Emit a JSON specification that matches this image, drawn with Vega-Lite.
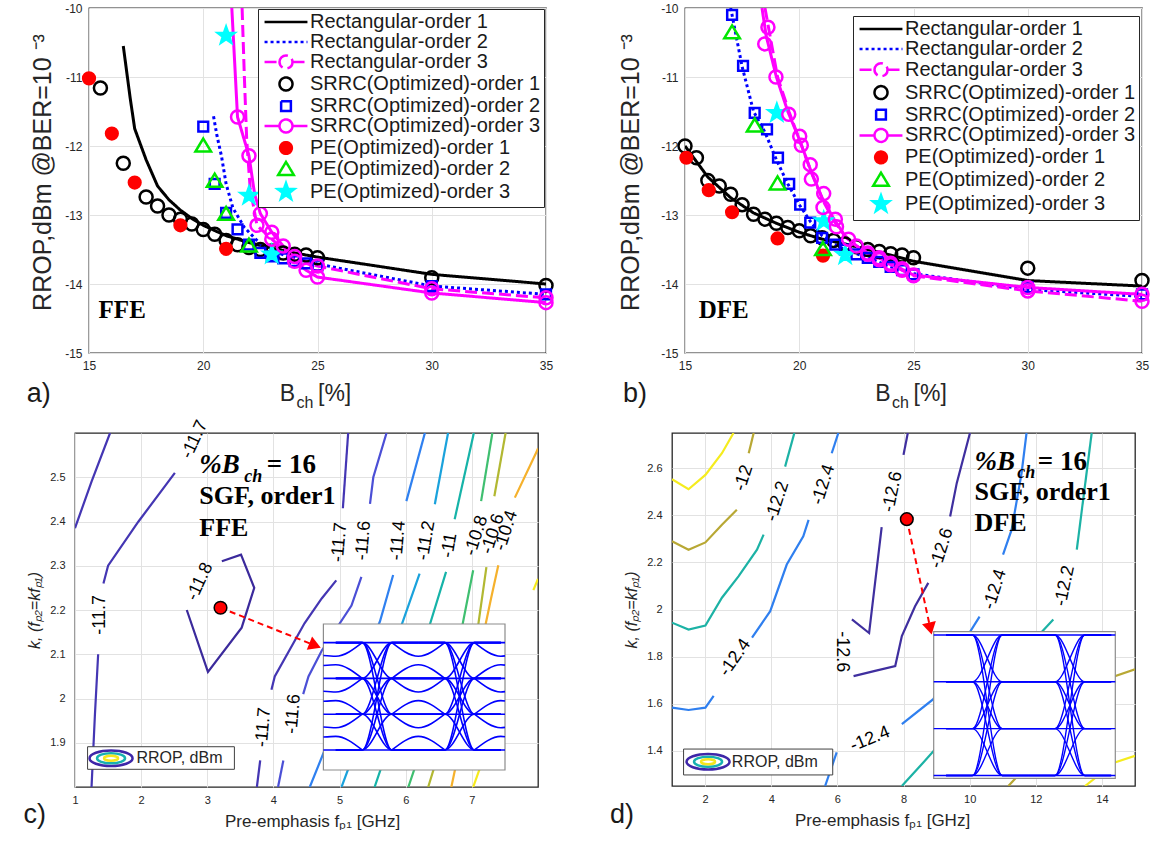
{
"$schema": "https://vega.github.io/schema/vega-lite/v6.json",
"background": "white",
"padding": {"left": 22, "top": 1, "right": 0, "bottom": 0},
"config": {
  "locale": {"number": {"decimal": ".", "thousands": ",", "grouping": [3], "currency": ["", ""], "minus": "-"}},
  "font": "Liberation Sans",
  "view": {"stroke": "#262626", "strokeWidth": 1.3},
  "axis": {"domain": false, "ticks": false, "grid": true, "gridColor": "#e2e2e2", "gridWidth": 1, "labelColor": "#262626", "titleColor": "#262626", "titleFontWeight": "normal", "labelFont": "Liberation Sans", "titleFont": "Liberation Sans", "labelPadding": 7, "labelFontSize": 11, "labelFlush": false, "labelOverlap": false}
},
"datasets": {
  "topA": [
    {"s":"Rectangular-order 1","k":"l","x":16.5,"y":-10.55},{"s":"Rectangular-order 1","k":"l","x":16.8,"y":-11.3},{"s":"Rectangular-order 1","k":"l","x":17,"y":-11.75},{"s":"Rectangular-order 1","k":"l","x":17.5,"y":-12.2},{"s":"Rectangular-order 1","k":"l","x":18,"y":-12.58},{"s":"Rectangular-order 1","k":"l","x":18.5,"y":-12.78},{"s":"Rectangular-order 1","k":"l","x":19,"y":-12.93},{"s":"Rectangular-order 1","k":"l","x":19.5,"y":-13.05},{"s":"Rectangular-order 1","k":"l","x":20,"y":-13.15},{"s":"Rectangular-order 1","k":"l","x":21,"y":-13.3},{"s":"Rectangular-order 1","k":"l","x":22,"y":-13.4},{"s":"Rectangular-order 1","k":"l","x":23,"y":-13.48},{"s":"Rectangular-order 1","k":"l","x":24,"y":-13.55},{"s":"Rectangular-order 1","k":"l","x":25,"y":-13.61},{"s":"Rectangular-order 1","k":"l","x":30,"y":-13.86},{"s":"Rectangular-order 1","k":"l","x":35,"y":-14.0},
    {"s":"Rectangular-order 2","k":"l","x":20.45,"y":-11.57},{"s":"Rectangular-order 2","k":"l","x":20.6,"y":-11.85},{"s":"Rectangular-order 2","k":"l","x":20.8,"y":-12.15},{"s":"Rectangular-order 2","k":"l","x":21,"y":-12.55},{"s":"Rectangular-order 2","k":"l","x":21.3,"y":-12.9},{"s":"Rectangular-order 2","k":"l","x":21.8,"y":-13.18},{"s":"Rectangular-order 2","k":"l","x":22.5,"y":-13.42},{"s":"Rectangular-order 2","k":"l","x":23,"y":-13.52},{"s":"Rectangular-order 2","k":"l","x":24,"y":-13.63},{"s":"Rectangular-order 2","k":"l","x":25,"y":-13.71},{"s":"Rectangular-order 2","k":"l","x":30,"y":-14.03},{"s":"Rectangular-order 2","k":"l","x":35,"y":-14.15},
    {"s":"Rectangular-order 3","k":"l","x":21.7,"y":-10},{"s":"Rectangular-order 3","k":"l","x":21.8,"y":-11},{"s":"Rectangular-order 3","k":"l","x":21.9,"y":-11.9},{"s":"Rectangular-order 3","k":"l","x":22.05,"y":-12.6},{"s":"Rectangular-order 3","k":"l","x":22.35,"y":-13.15},{"s":"Rectangular-order 3","k":"l","x":23,"y":-13.35},{"s":"Rectangular-order 3","k":"l","x":23.5,"y":-13.5},{"s":"Rectangular-order 3","k":"l","x":24,"y":-13.6},{"s":"Rectangular-order 3","k":"l","x":24.5,"y":-13.68},{"s":"Rectangular-order 3","k":"l","x":25,"y":-13.74},{"s":"Rectangular-order 3","k":"l","x":30,"y":-14.07},{"s":"Rectangular-order 3","k":"l","x":35,"y":-14.2},
    {"s":"SRRC(Optimized)-order 3","k":"l","x":21.25,"y":-10},{"s":"SRRC(Optimized)-order 3","k":"l","x":21.5,"y":-11.58},{"s":"SRRC(Optimized)-order 3","k":"l","x":22,"y":-12.14},{"s":"SRRC(Optimized)-order 3","k":"l","x":22.25,"y":-12.7},{"s":"SRRC(Optimized)-order 3","k":"l","x":22.5,"y":-12.98},{"s":"SRRC(Optimized)-order 3","k":"l","x":23,"y":-13.25},{"s":"SRRC(Optimized)-order 3","k":"l","x":23.5,"y":-13.45},{"s":"SRRC(Optimized)-order 3","k":"l","x":24,"y":-13.67},{"s":"SRRC(Optimized)-order 3","k":"l","x":24.5,"y":-13.8},{"s":"SRRC(Optimized)-order 3","k":"l","x":25,"y":-13.9},{"s":"SRRC(Optimized)-order 3","k":"l","x":30,"y":-14.13},{"s":"SRRC(Optimized)-order 3","k":"l","x":35,"y":-14.27},
    {"s":"SRRC(Optimized)-order 1","k":"p","x":15.5,"y":-11.16},{"s":"SRRC(Optimized)-order 1","k":"p","x":16.5,"y":-12.25},{"s":"SRRC(Optimized)-order 1","k":"p","x":17.5,"y":-12.74},{"s":"SRRC(Optimized)-order 1","k":"p","x":18,"y":-12.87},{"s":"SRRC(Optimized)-order 1","k":"p","x":18.5,"y":-13.0},{"s":"SRRC(Optimized)-order 1","k":"p","x":19,"y":-13.06},{"s":"SRRC(Optimized)-order 1","k":"p","x":19.5,"y":-13.13},{"s":"SRRC(Optimized)-order 1","k":"p","x":20,"y":-13.21},{"s":"SRRC(Optimized)-order 1","k":"p","x":20.5,"y":-13.28},{"s":"SRRC(Optimized)-order 1","k":"p","x":21,"y":-13.37},{"s":"SRRC(Optimized)-order 1","k":"p","x":21.5,"y":-13.43},{"s":"SRRC(Optimized)-order 1","k":"p","x":22,"y":-13.47},{"s":"SRRC(Optimized)-order 1","k":"p","x":22.5,"y":-13.5},{"s":"SRRC(Optimized)-order 1","k":"p","x":23,"y":-13.52},{"s":"SRRC(Optimized)-order 1","k":"p","x":23.5,"y":-13.55},{"s":"SRRC(Optimized)-order 1","k":"p","x":24,"y":-13.57},{"s":"SRRC(Optimized)-order 1","k":"p","x":24.5,"y":-13.58},{"s":"SRRC(Optimized)-order 1","k":"p","x":25,"y":-13.62},{"s":"SRRC(Optimized)-order 1","k":"p","x":30,"y":-13.91},{"s":"SRRC(Optimized)-order 1","k":"p","x":35,"y":-14.02},
    {"s":"SRRC(Optimized)-order 2","k":"p","x":20,"y":-11.72},{"s":"SRRC(Optimized)-order 2","k":"p","x":20.5,"y":-12.55},{"s":"SRRC(Optimized)-order 2","k":"p","x":21,"y":-12.97},{"s":"SRRC(Optimized)-order 2","k":"p","x":21.5,"y":-13.21},{"s":"SRRC(Optimized)-order 2","k":"p","x":22,"y":-13.43},{"s":"SRRC(Optimized)-order 2","k":"p","x":22.5,"y":-13.55},{"s":"SRRC(Optimized)-order 2","k":"p","x":23,"y":-13.6},{"s":"SRRC(Optimized)-order 2","k":"p","x":23.5,"y":-13.63},{"s":"SRRC(Optimized)-order 2","k":"p","x":24,"y":-13.67},{"s":"SRRC(Optimized)-order 2","k":"p","x":24.5,"y":-13.7},{"s":"SRRC(Optimized)-order 2","k":"p","x":25,"y":-13.73},{"s":"SRRC(Optimized)-order 2","k":"p","x":30,"y":-14.03},{"s":"SRRC(Optimized)-order 2","k":"p","x":35,"y":-14.15},
    {"s":"PE(Optimized)-order 1","k":"p","x":15,"y":-11.02},{"s":"PE(Optimized)-order 1","k":"p","x":16,"y":-11.82},{"s":"PE(Optimized)-order 1","k":"p","x":17,"y":-12.53},{"s":"PE(Optimized)-order 1","k":"p","x":19,"y":-13.15},{"s":"PE(Optimized)-order 1","k":"p","x":21,"y":-13.49},
    {"s":"PE(Optimized)-order 2","k":"p","x":20,"y":-12.0},{"s":"PE(Optimized)-order 2","k":"p","x":20.5,"y":-12.51},{"s":"PE(Optimized)-order 2","k":"p","x":21,"y":-12.99},{"s":"PE(Optimized)-order 2","k":"p","x":22,"y":-13.45},
    {"s":"PE(Optimized)-order 3","k":"p","x":21,"y":-10.4},{"s":"PE(Optimized)-order 3","k":"p","x":22,"y":-12.72},{"s":"PE(Optimized)-order 3","k":"p","x":23,"y":-13.57},
    {"s":"Rectangular-order 3","k":"c","x":22.35,"y":-13.15},{"s":"Rectangular-order 3","k":"c","x":23,"y":-13.35},{"s":"Rectangular-order 3","k":"c","x":24,"y":-13.6},{"s":"Rectangular-order 3","k":"c","x":25,"y":-13.74},{"s":"Rectangular-order 3","k":"c","x":30,"y":-14.07},{"s":"Rectangular-order 3","k":"c","x":35,"y":-14.2},
    {"s":"SRRC(Optimized)-order 3","k":"c","x":21.5,"y":-11.58},{"s":"SRRC(Optimized)-order 3","k":"c","x":22,"y":-12.14},{"s":"SRRC(Optimized)-order 3","k":"c","x":22.5,"y":-12.98},{"s":"SRRC(Optimized)-order 3","k":"c","x":23,"y":-13.25},{"s":"SRRC(Optimized)-order 3","k":"c","x":23.5,"y":-13.45},{"s":"SRRC(Optimized)-order 3","k":"c","x":24,"y":-13.67},{"s":"SRRC(Optimized)-order 3","k":"c","x":24.5,"y":-13.8},{"s":"SRRC(Optimized)-order 3","k":"c","x":25,"y":-13.9},{"s":"SRRC(Optimized)-order 3","k":"c","x":30,"y":-14.13},{"s":"SRRC(Optimized)-order 3","k":"c","x":35,"y":-14.27}
  ],
  "topB": [
    {"s":"Rectangular-order 1","k":"l","x":15,"y":-12.0},{"s":"Rectangular-order 1","k":"l","x":16,"y":-12.45},{"s":"Rectangular-order 1","k":"l","x":17,"y":-12.75},{"s":"Rectangular-order 1","k":"l","x":18,"y":-12.97},{"s":"Rectangular-order 1","k":"l","x":19,"y":-13.12},{"s":"Rectangular-order 1","k":"l","x":20,"y":-13.25},{"s":"Rectangular-order 1","k":"l","x":21,"y":-13.35},{"s":"Rectangular-order 1","k":"l","x":22,"y":-13.42},{"s":"Rectangular-order 1","k":"l","x":23,"y":-13.5},{"s":"Rectangular-order 1","k":"l","x":24,"y":-13.58},{"s":"Rectangular-order 1","k":"l","x":25,"y":-13.67},{"s":"Rectangular-order 1","k":"l","x":30,"y":-13.95},{"s":"Rectangular-order 1","k":"l","x":35,"y":-14.03},
    {"s":"Rectangular-order 2","k":"l","x":17.0,"y":-10.0},{"s":"Rectangular-order 2","k":"l","x":17.5,"y":-10.85},{"s":"Rectangular-order 2","k":"l","x":18,"y":-11.5},{"s":"Rectangular-order 2","k":"l","x":18.5,"y":-11.8},{"s":"Rectangular-order 2","k":"l","x":19,"y":-12.2},{"s":"Rectangular-order 2","k":"l","x":19.5,"y":-12.55},{"s":"Rectangular-order 2","k":"l","x":20,"y":-12.85},{"s":"Rectangular-order 2","k":"l","x":20.5,"y":-13.1},{"s":"Rectangular-order 2","k":"l","x":21,"y":-13.3},{"s":"Rectangular-order 2","k":"l","x":21.5,"y":-13.42},{"s":"Rectangular-order 2","k":"l","x":22,"y":-13.5},{"s":"Rectangular-order 2","k":"l","x":23,"y":-13.62},{"s":"Rectangular-order 2","k":"l","x":24,"y":-13.75},{"s":"Rectangular-order 2","k":"l","x":25,"y":-13.85},{"s":"Rectangular-order 2","k":"l","x":30,"y":-14.08},{"s":"Rectangular-order 2","k":"l","x":35,"y":-14.18},
    {"s":"Rectangular-order 3","k":"l","x":18.5,"y":-10.0},{"s":"Rectangular-order 3","k":"l","x":19.05,"y":-11.0},{"s":"Rectangular-order 3","k":"l","x":19.55,"y":-11.5},{"s":"Rectangular-order 3","k":"l","x":20.05,"y":-11.95},{"s":"Rectangular-order 3","k":"l","x":20.55,"y":-12.4},{"s":"Rectangular-order 3","k":"l","x":21.05,"y":-12.8},{"s":"Rectangular-order 3","k":"l","x":21.55,"y":-13.1},{"s":"Rectangular-order 3","k":"l","x":22.05,"y":-13.33},{"s":"Rectangular-order 3","k":"l","x":23,"y":-13.57},{"s":"Rectangular-order 3","k":"l","x":24,"y":-13.72},{"s":"Rectangular-order 3","k":"l","x":25,"y":-13.88},{"s":"Rectangular-order 3","k":"l","x":30,"y":-14.1},{"s":"Rectangular-order 3","k":"l","x":35,"y":-14.25},
    {"s":"SRRC(Optimized)-order 3","k":"l","x":18.37,"y":-10.0},{"s":"SRRC(Optimized)-order 3","k":"l","x":18.55,"y":-10.4},{"s":"SRRC(Optimized)-order 3","k":"l","x":19.0,"y":-11.0},{"s":"SRRC(Optimized)-order 3","k":"l","x":19.5,"y":-11.5},{"s":"SRRC(Optimized)-order 3","k":"l","x":20.0,"y":-11.9},{"s":"SRRC(Optimized)-order 3","k":"l","x":20.5,"y":-12.35},{"s":"SRRC(Optimized)-order 3","k":"l","x":21.0,"y":-12.75},{"s":"SRRC(Optimized)-order 3","k":"l","x":21.5,"y":-13.05},{"s":"SRRC(Optimized)-order 3","k":"l","x":22.0,"y":-13.3},{"s":"SRRC(Optimized)-order 3","k":"l","x":22.5,"y":-13.45},{"s":"SRRC(Optimized)-order 3","k":"l","x":23,"y":-13.55},{"s":"SRRC(Optimized)-order 3","k":"l","x":24,"y":-13.7},{"s":"SRRC(Optimized)-order 3","k":"l","x":25,"y":-13.87},{"s":"SRRC(Optimized)-order 3","k":"l","x":30,"y":-14.05},{"s":"SRRC(Optimized)-order 3","k":"l","x":35,"y":-14.15},
    {"s":"SRRC(Optimized)-order 1","k":"p","x":15,"y":-12.0},{"s":"SRRC(Optimized)-order 1","k":"p","x":15.5,"y":-12.17},{"s":"SRRC(Optimized)-order 1","k":"p","x":16,"y":-12.5},{"s":"SRRC(Optimized)-order 1","k":"p","x":16.5,"y":-12.58},{"s":"SRRC(Optimized)-order 1","k":"p","x":17,"y":-12.7},{"s":"SRRC(Optimized)-order 1","k":"p","x":17.5,"y":-12.85},{"s":"SRRC(Optimized)-order 1","k":"p","x":18,"y":-12.99},{"s":"SRRC(Optimized)-order 1","k":"p","x":18.5,"y":-13.06},{"s":"SRRC(Optimized)-order 1","k":"p","x":19,"y":-13.12},{"s":"SRRC(Optimized)-order 1","k":"p","x":19.5,"y":-13.18},{"s":"SRRC(Optimized)-order 1","k":"p","x":20,"y":-13.23},{"s":"SRRC(Optimized)-order 1","k":"p","x":20.5,"y":-13.3},{"s":"SRRC(Optimized)-order 1","k":"p","x":21,"y":-13.33},{"s":"SRRC(Optimized)-order 1","k":"p","x":21.5,"y":-13.37},{"s":"SRRC(Optimized)-order 1","k":"p","x":22,"y":-13.42},{"s":"SRRC(Optimized)-order 1","k":"p","x":22.5,"y":-13.46},{"s":"SRRC(Optimized)-order 1","k":"p","x":23,"y":-13.5},{"s":"SRRC(Optimized)-order 1","k":"p","x":23.5,"y":-13.53},{"s":"SRRC(Optimized)-order 1","k":"p","x":24,"y":-13.56},{"s":"SRRC(Optimized)-order 1","k":"p","x":24.5,"y":-13.58},{"s":"SRRC(Optimized)-order 1","k":"p","x":25,"y":-13.62},{"s":"SRRC(Optimized)-order 1","k":"p","x":30,"y":-13.77},{"s":"SRRC(Optimized)-order 1","k":"p","x":35,"y":-13.95},
    {"s":"SRRC(Optimized)-order 2","k":"p","x":17.06,"y":-10.1},{"s":"SRRC(Optimized)-order 2","k":"p","x":17.54,"y":-10.84},{"s":"SRRC(Optimized)-order 2","k":"p","x":18.05,"y":-11.52},{"s":"SRRC(Optimized)-order 2","k":"p","x":18.59,"y":-11.76},{"s":"SRRC(Optimized)-order 2","k":"p","x":19.07,"y":-12.17},{"s":"SRRC(Optimized)-order 2","k":"p","x":19.56,"y":-12.55},{"s":"SRRC(Optimized)-order 2","k":"p","x":20.04,"y":-12.85},{"s":"SRRC(Optimized)-order 2","k":"p","x":20.48,"y":-13.11},{"s":"SRRC(Optimized)-order 2","k":"p","x":21.0,"y":-13.33},{"s":"SRRC(Optimized)-order 2","k":"p","x":21.58,"y":-13.43},{"s":"SRRC(Optimized)-order 2","k":"p","x":22,"y":-13.5},{"s":"SRRC(Optimized)-order 2","k":"p","x":22.5,"y":-13.57},{"s":"SRRC(Optimized)-order 2","k":"p","x":23,"y":-13.62},{"s":"SRRC(Optimized)-order 2","k":"p","x":23.5,"y":-13.68},{"s":"SRRC(Optimized)-order 2","k":"p","x":24,"y":-13.75},{"s":"SRRC(Optimized)-order 2","k":"p","x":24.5,"y":-13.8},{"s":"SRRC(Optimized)-order 2","k":"p","x":25,"y":-13.86},{"s":"SRRC(Optimized)-order 2","k":"p","x":30,"y":-14.05},{"s":"SRRC(Optimized)-order 2","k":"p","x":35,"y":-14.15},
    {"s":"PE(Optimized)-order 1","k":"p","x":15.06,"y":-12.17},{"s":"PE(Optimized)-order 1","k":"p","x":16.04,"y":-12.64},{"s":"PE(Optimized)-order 1","k":"p","x":17.06,"y":-12.96},{"s":"PE(Optimized)-order 1","k":"p","x":19.05,"y":-13.34},{"s":"PE(Optimized)-order 1","k":"p","x":21.04,"y":-13.59},
    {"s":"PE(Optimized)-order 2","k":"p","x":17.06,"y":-10.36},{"s":"PE(Optimized)-order 2","k":"p","x":18.05,"y":-11.71},{"s":"PE(Optimized)-order 2","k":"p","x":19.05,"y":-12.55},{"s":"PE(Optimized)-order 2","k":"p","x":21.04,"y":-13.5},
    {"s":"PE(Optimized)-order 3","k":"p","x":19.02,"y":-11.52},{"s":"PE(Optimized)-order 3","k":"p","x":21.07,"y":-13.09},{"s":"PE(Optimized)-order 3","k":"p","x":22.01,"y":-13.58},
    {"s":"Rectangular-order 3","k":"c","x":23,"y":-13.57},{"s":"Rectangular-order 3","k":"c","x":23.5,"y":-13.65},{"s":"Rectangular-order 3","k":"c","x":24,"y":-13.72},{"s":"Rectangular-order 3","k":"c","x":24.5,"y":-13.8},{"s":"Rectangular-order 3","k":"c","x":25,"y":-13.88},{"s":"Rectangular-order 3","k":"c","x":30,"y":-14.1},{"s":"Rectangular-order 3","k":"c","x":35,"y":-14.25},
    {"s":"SRRC(Optimized)-order 3","k":"c","x":18.63,"y":-10.28},{"s":"SRRC(Optimized)-order 3","k":"c","x":18.49,"y":-10.52},{"s":"SRRC(Optimized)-order 3","k":"c","x":18.98,"y":-11.0},{"s":"SRRC(Optimized)-order 3","k":"c","x":19.54,"y":-11.54},{"s":"SRRC(Optimized)-order 3","k":"c","x":20.02,"y":-11.86},{"s":"SRRC(Optimized)-order 3","k":"c","x":20.09,"y":-11.99},{"s":"SRRC(Optimized)-order 3","k":"c","x":20.48,"y":-12.27},{"s":"SRRC(Optimized)-order 3","k":"c","x":20.53,"y":-12.48},{"s":"SRRC(Optimized)-order 3","k":"c","x":21.07,"y":-12.69},{"s":"SRRC(Optimized)-order 3","k":"c","x":21.04,"y":-12.89},{"s":"SRRC(Optimized)-order 3","k":"c","x":21.58,"y":-13.06},{"s":"SRRC(Optimized)-order 3","k":"c","x":21.63,"y":-13.17},{"s":"SRRC(Optimized)-order 3","k":"c","x":22.16,"y":-13.35},{"s":"SRRC(Optimized)-order 3","k":"c","x":22.5,"y":-13.45},{"s":"SRRC(Optimized)-order 3","k":"c","x":23,"y":-13.55},{"s":"SRRC(Optimized)-order 3","k":"c","x":23.5,"y":-13.62},{"s":"SRRC(Optimized)-order 3","k":"c","x":24,"y":-13.7},{"s":"SRRC(Optimized)-order 3","k":"c","x":24.5,"y":-13.78},{"s":"SRRC(Optimized)-order 3","k":"c","x":25,"y":-13.87},{"s":"SRRC(Optimized)-order 3","k":"c","x":30,"y":-14.05},{"s":"SRRC(Optimized)-order 3","k":"c","x":35,"y":-14.15}
  ],
  "ffeC": [
    {"id":"s1","l":"-11.7","x":1.0,"y":2.385},{"id":"s1","l":"-11.7","x":1.25,"y":2.49},{"id":"s1","l":"-11.7","x":1.53,"y":2.6},
    {"id":"s2","l":"-11.7","x":1.43,"y":2.26},{"id":"s2","l":"-11.7","x":1.5,"y":2.3},{"id":"s2","l":"-11.7","x":1.96,"y":2.4},{"id":"s2","l":"-11.7","x":2.51,"y":2.51},
    {"id":"s3","l":"-11.7","x":1.35,"y":2.1},{"id":"s3","l":"-11.7","x":1.3,"y":1.96},{"id":"s3","l":"-11.7","x":1.25,"y":1.8},
    {"id":"s4","l":"-11.8","x":3.22,"y":2.31},{"id":"s4","l":"-11.8","x":3.51,"y":2.325},{"id":"s4","l":"-11.8","x":3.71,"y":2.25},{"id":"s4","l":"-11.8","x":3.52,"y":2.16},{"id":"s4","l":"-11.8","x":3.01,"y":2.06},{"id":"s4","l":"-11.8","x":2.69,"y":2.2},
    {"id":"s5","l":"-11.7","x":5.05,"y":2.43},{"id":"s5","l":"-11.7","x":5.13,"y":2.6},
    {"id":"s6","l":"-11.7","x":4.95,"y":2.267},{"id":"s6","l":"-11.7","x":4.73,"y":2.226},{"id":"s6","l":"-11.7","x":4.47,"y":2.17},{"id":"s6","l":"-11.7","x":4.02,"y":2.05},{"id":"s6","l":"-11.7","x":3.97,"y":2.02},
    {"id":"s7","l":"-11.7","x":3.8,"y":1.86},{"id":"s7","l":"-11.7","x":3.75,"y":1.8},
    {"id":"s8","l":"-11.6","x":5.46,"y":2.44},{"id":"s8","l":"-11.6","x":5.51,"y":2.5},{"id":"s8","l":"-11.6","x":5.71,"y":2.6},
    {"id":"s9","l":"-11.6","x":5.33,"y":2.275},{"id":"s9","l":"-11.6","x":5.18,"y":2.21},{"id":"s9","l":"-11.6","x":4.73,"y":2.108},{"id":"s9","l":"-11.6","x":4.53,"y":2.05},{"id":"s9","l":"-11.6","x":4.45,"y":2.01},
    {"id":"s10","l":"-11.6","x":4.15,"y":1.86},{"id":"s10","l":"-11.6","x":4.07,"y":1.8},
    {"id":"s11","l":"-11.4","x":6.01,"y":2.446},{"id":"s11","l":"-11.4","x":6.29,"y":2.6},
    {"id":"s12","l":"-11.4","x":5.81,"y":2.279},{"id":"s12","l":"-11.4","x":5.61,"y":2.174},{"id":"s12","l":"-11.4","x":4.9,"y":1.93},{"id":"s12","l":"-11.4","x":4.55,"y":1.8},
    {"id":"s13","l":"-11.2","x":6.44,"y":2.439},{"id":"s13","l":"-11.2","x":6.64,"y":2.6},
    {"id":"s14","l":"-11.2","x":6.21,"y":2.282},{"id":"s14","l":"-11.2","x":5.9,"y":2.15},{"id":"s14","l":"-11.2","x":5.03,"y":1.8},
    {"id":"s15","l":"-11","x":6.74,"y":2.405},{"id":"s15","l":"-11","x":7.03,"y":2.6},
    {"id":"s16","l":"-11","x":6.61,"y":2.286},{"id":"s16","l":"-11","x":6.35,"y":2.16},{"id":"s16","l":"-11","x":5.53,"y":1.8},
    {"id":"s17","l":"-10.8","x":7.14,"y":2.446},{"id":"s17","l":"-10.8","x":7.31,"y":2.6},
    {"id":"s18","l":"-10.8","x":7.02,"y":2.29},{"id":"s18","l":"-10.8","x":6.85,"y":2.16},{"id":"s18","l":"-10.8","x":6.04,"y":1.8},
    {"id":"s19","l":"-10.6","x":7.34,"y":2.457},{"id":"s19","l":"-10.6","x":7.51,"y":2.6},
    {"id":"s20","l":"-10.6","x":7.22,"y":2.297},{"id":"s20","l":"-10.6","x":7.1,"y":2.17},{"id":"s20","l":"-10.6","x":6.34,"y":1.8},
    {"id":"s21","l":"-10.4","x":7.65,"y":2.454},{"id":"s21","l":"-10.4","x":7.97,"y":2.555},{"id":"s21","l":"-10.4","x":8.0,"y":2.565},
    {"id":"s22","l":"-10.4","x":7.4,"y":2.301},{"id":"s22","l":"-10.4","x":7.29,"y":2.226},{"id":"s22","l":"-10.4","x":6.69,"y":1.8},
    {"id":"s23","l":"-10.2","x":7.02,"y":1.8},{"id":"s23","l":"-10.2","x":7.45,"y":1.98},
    {"id":"s24","l":"-10.2","x":7.93,"y":2.245},{"id":"s24","l":"-10.2","x":8.0,"y":2.27}
  ],
  "dfeC": [
    {"id":"d1","l":"-11.8","x":1.0,"y":2.554},{"id":"d1","l":"-11.8","x":1.5,"y":2.511},{"id":"d1","l":"-11.8","x":2.01,"y":2.572},{"id":"d1","l":"-11.8","x":2.51,"y":2.664},{"id":"d1","l":"-11.8","x":2.86,"y":2.75},
    {"id":"d2","l":"-12","x":1.0,"y":2.29},{"id":"d2","l":"-12","x":1.5,"y":2.254},{"id":"d2","l":"-12","x":2.01,"y":2.285},{"id":"d2","l":"-12","x":2.51,"y":2.36},{"id":"d2","l":"-12","x":2.96,"y":2.424},
    {"id":"d3","l":"-12","x":3.32,"y":2.664},{"id":"d3","l":"-12","x":3.47,"y":2.75},
    {"id":"d4","l":"-12.2","x":1.0,"y":1.944},{"id":"d4","l":"-12.2","x":1.5,"y":1.915},{"id":"d4","l":"-12.2","x":2.01,"y":1.932},{"id":"d4","l":"-12.2","x":2.51,"y":2.05},{"id":"d4","l":"-12.2","x":3.01,"y":2.141},{"id":"d4","l":"-12.2","x":3.57,"y":2.254},{"id":"d4","l":"-12.2","x":3.77,"y":2.318},
    {"id":"d5","l":"-12.2","x":4.42,"y":2.607},{"id":"d5","l":"-12.2","x":4.7,"y":2.75},
    {"id":"d6","l":"-12.4","x":1.0,"y":1.583},{"id":"d6","l":"-12.4","x":1.5,"y":1.573},{"id":"d6","l":"-12.4","x":2.01,"y":1.583},{"id":"d6","l":"-12.4","x":2.26,"y":1.633},
    {"id":"d7","l":"-12.4","x":3.42,"y":1.88},{"id":"d7","l":"-12.4","x":3.97,"y":1.993},{"id":"d7","l":"-12.4","x":4.47,"y":2.191},{"id":"d7","l":"-12.4","x":4.97,"y":2.311},{"id":"d7","l":"-12.4","x":5.13,"y":2.381},
    {"id":"d8","l":"-12.4","x":5.83,"y":2.664},{"id":"d8","l":"-12.4","x":6.03,"y":2.75},
    {"id":"d9","l":"-12.6","x":6.44,"y":1.958},{"id":"d9","l":"-12.6","x":6.96,"y":1.9},{"id":"d9","l":"-12.6","x":7.34,"y":2.35},
    {"id":"d10","l":"-12.6","x":8.0,"y":2.657},{"id":"d10","l":"-12.6","x":8.13,"y":2.75},
    {"id":"d11","l":"-12.6","x":6.49,"y":1.717},{"id":"d11","l":"-12.6","x":7.14,"y":1.739},{"id":"d11","l":"-12.6","x":7.75,"y":1.76},{"id":"d11","l":"-12.6","x":7.95,"y":1.887},{"id":"d11","l":"-12.6","x":8.35,"y":2.014},{"id":"d11","l":"-12.6","x":8.75,"y":2.113},
    {"id":"d12","l":"-12.6","x":9.41,"y":2.395},{"id":"d12","l":"-12.6","x":9.61,"y":2.537},{"id":"d12","l":"-12.6","x":10.01,"y":2.75},
    {"id":"d13","l":"-12.4","x":5.63,"y":1.25},{"id":"d13","l":"-12.4","x":5.98,"y":1.393},
    {"id":"d14","l":"-12.4","x":7.95,"y":1.513},{"id":"d14","l":"-12.4","x":8.9,"y":1.619},{"id":"d14","l":"-12.4","x":9.9,"y":1.88},{"id":"d14","l":"-12.4","x":10.3,"y":1.97},
    {"id":"d15","l":"-12.4","x":11.01,"y":2.233},{"id":"d15","l":"-12.4","x":11.27,"y":2.339},{"id":"d15","l":"-12.4","x":11.57,"y":2.579},{"id":"d15","l":"-12.4","x":11.72,"y":2.75},
    {"id":"d16","l":"-12.2","x":7.95,"y":1.25},{"id":"d16","l":"-12.2","x":8.6,"y":1.35},{"id":"d16","l":"-12.2","x":10.5,"y":1.65},{"id":"d16","l":"-12.2","x":12.53,"y":1.958},
    {"id":"d17","l":"-12.2","x":13.24,"y":2.254},{"id":"d17","l":"-12.2","x":13.69,"y":2.75},
    {"id":"d18","l":"-12","x":11.17,"y":1.25},{"id":"d18","l":"-12","x":12.5,"y":1.45},{"id":"d18","l":"-12","x":14.39,"y":1.717},{"id":"d18","l":"-12","x":15.0,"y":1.746},
    {"id":"d19","l":"-11.8","x":13.49,"y":1.25},{"id":"d19","l":"-11.8","x":14.39,"y":1.35},{"id":"d19","l":"-11.8","x":15.0,"y":1.378}
  ],
  "eye": [
    {"g":"h0","t":0,"v":0},{"g":"h0","t":2.2,"v":0},{"g":"h1","t":0,"v":1},{"g":"h1","t":2.2,"v":1},{"g":"h2","t":0,"v":2},{"g":"h2","t":2.2,"v":2},{"g":"h3","t":0,"v":3},{"g":"h3","t":2.2,"v":3},
    {"g":"a01","t":0.15,"v":0},{"g":"a01","t":0.47,"v":0},{"g":"a01","t":0.83,"v":1},{"g":"a01","t":1.15,"v":1},
    {"g":"a02","t":0.15,"v":0},{"g":"a02","t":0.47,"v":0},{"g":"a02","t":0.83,"v":2},{"g":"a02","t":1.15,"v":2},
    {"g":"a03","t":0.15,"v":0},{"g":"a03","t":0.47,"v":0},{"g":"a03","t":0.83,"v":3},{"g":"a03","t":1.15,"v":3},
    {"g":"a10","t":0.15,"v":1},{"g":"a10","t":0.47,"v":1},{"g":"a10","t":0.83,"v":0},{"g":"a10","t":1.15,"v":0},
    {"g":"a12","t":0.15,"v":1},{"g":"a12","t":0.47,"v":1},{"g":"a12","t":0.83,"v":2},{"g":"a12","t":1.15,"v":2},
    {"g":"a13","t":0.15,"v":1},{"g":"a13","t":0.47,"v":1},{"g":"a13","t":0.83,"v":3},{"g":"a13","t":1.15,"v":3},
    {"g":"a20","t":0.15,"v":2},{"g":"a20","t":0.47,"v":2},{"g":"a20","t":0.83,"v":0},{"g":"a20","t":1.15,"v":0},
    {"g":"a21","t":0.15,"v":2},{"g":"a21","t":0.47,"v":2},{"g":"a21","t":0.83,"v":1},{"g":"a21","t":1.15,"v":1},
    {"g":"a23","t":0.15,"v":2},{"g":"a23","t":0.47,"v":2},{"g":"a23","t":0.83,"v":3},{"g":"a23","t":1.15,"v":3},
    {"g":"a30","t":0.15,"v":3},{"g":"a30","t":0.47,"v":3},{"g":"a30","t":0.83,"v":0},{"g":"a30","t":1.15,"v":0},
    {"g":"a31","t":0.15,"v":3},{"g":"a31","t":0.47,"v":3},{"g":"a31","t":0.83,"v":1},{"g":"a31","t":1.15,"v":1},
    {"g":"a32","t":0.15,"v":3},{"g":"a32","t":0.47,"v":3},{"g":"a32","t":0.83,"v":2},{"g":"a32","t":1.15,"v":2},
    {"g":"b01","t":1.15,"v":0},{"g":"b01","t":1.47,"v":0},{"g":"b01","t":1.83,"v":1},{"g":"b01","t":2.15,"v":1},
    {"g":"b02","t":1.15,"v":0},{"g":"b02","t":1.47,"v":0},{"g":"b02","t":1.83,"v":2},{"g":"b02","t":2.15,"v":2},
    {"g":"b03","t":1.15,"v":0},{"g":"b03","t":1.47,"v":0},{"g":"b03","t":1.83,"v":3},{"g":"b03","t":2.15,"v":3},
    {"g":"b10","t":1.15,"v":1},{"g":"b10","t":1.47,"v":1},{"g":"b10","t":1.83,"v":0},{"g":"b10","t":2.15,"v":0},
    {"g":"b12","t":1.15,"v":1},{"g":"b12","t":1.47,"v":1},{"g":"b12","t":1.83,"v":2},{"g":"b12","t":2.15,"v":2},
    {"g":"b13","t":1.15,"v":1},{"g":"b13","t":1.47,"v":1},{"g":"b13","t":1.83,"v":3},{"g":"b13","t":2.15,"v":3},
    {"g":"b20","t":1.15,"v":2},{"g":"b20","t":1.47,"v":2},{"g":"b20","t":1.83,"v":0},{"g":"b20","t":2.15,"v":0},
    {"g":"b21","t":1.15,"v":2},{"g":"b21","t":1.47,"v":2},{"g":"b21","t":1.83,"v":1},{"g":"b21","t":2.15,"v":1},
    {"g":"b23","t":1.15,"v":2},{"g":"b23","t":1.47,"v":2},{"g":"b23","t":1.83,"v":3},{"g":"b23","t":2.15,"v":3},
    {"g":"b30","t":1.15,"v":3},{"g":"b30","t":1.47,"v":3},{"g":"b30","t":1.83,"v":0},{"g":"b30","t":2.15,"v":0},
    {"g":"b31","t":1.15,"v":3},{"g":"b31","t":1.47,"v":3},{"g":"b31","t":1.83,"v":1},{"g":"b31","t":2.15,"v":1},
    {"g":"b32","t":1.15,"v":3},{"g":"b32","t":1.47,"v":3},{"g":"b32","t":1.83,"v":2},{"g":"b32","t":2.15,"v":2}
  ],
  "lens": [
    {"g":"m0u","t":0.83,"v":0},{"g":"m0u","t":1.15,"v":0.38},{"g":"m0u","t":1.47,"v":0},
    {"g":"m1u","t":0.83,"v":1},{"g":"m1u","t":1.15,"v":1.38},{"g":"m1u","t":1.47,"v":1},
    {"g":"m1d","t":0.83,"v":1},{"g":"m1d","t":1.15,"v":0.62},{"g":"m1d","t":1.47,"v":1},
    {"g":"m2u","t":0.83,"v":2},{"g":"m2u","t":1.15,"v":2.38},{"g":"m2u","t":1.47,"v":2},
    {"g":"m2d","t":0.83,"v":2},{"g":"m2d","t":1.15,"v":1.62},{"g":"m2d","t":1.47,"v":2},
    {"g":"m3d","t":0.83,"v":3},{"g":"m3d","t":1.15,"v":2.62},{"g":"m3d","t":1.47,"v":3},
    {"g":"l0u","t":0,"v":0.36},{"g":"l0u","t":0.15,"v":0.38},{"g":"l0u","t":0.47,"v":0},
    {"g":"l1u","t":0,"v":1.36},{"g":"l1u","t":0.15,"v":1.38},{"g":"l1u","t":0.47,"v":1},
    {"g":"l1d","t":0,"v":0.64},{"g":"l1d","t":0.15,"v":0.62},{"g":"l1d","t":0.47,"v":1},
    {"g":"l2u","t":0,"v":2.36},{"g":"l2u","t":0.15,"v":2.38},{"g":"l2u","t":0.47,"v":2},
    {"g":"l2d","t":0,"v":1.64},{"g":"l2d","t":0.15,"v":1.62},{"g":"l2d","t":0.47,"v":2},
    {"g":"l3d","t":0,"v":2.64},{"g":"l3d","t":0.15,"v":2.62},{"g":"l3d","t":0.47,"v":3},
    {"g":"r0u","t":1.83,"v":0},{"g":"r0u","t":2.15,"v":0.38},{"g":"r0u","t":2.2,"v":0.37},
    {"g":"r1u","t":1.83,"v":1},{"g":"r1u","t":2.15,"v":1.38},{"g":"r1u","t":2.2,"v":1.37},
    {"g":"r1d","t":1.83,"v":1},{"g":"r1d","t":2.15,"v":0.62},{"g":"r1d","t":2.2,"v":0.63},
    {"g":"r2u","t":1.83,"v":2},{"g":"r2u","t":2.15,"v":2.38},{"g":"r2u","t":2.2,"v":2.37},
    {"g":"r2d","t":1.83,"v":2},{"g":"r2d","t":2.15,"v":1.62},{"g":"r2d","t":2.2,"v":1.63},
    {"g":"r3d","t":1.83,"v":3},{"g":"r3d","t":2.15,"v":2.62},{"g":"r3d","t":2.2,"v":2.63}
  ]
},
"spacing": 5,
"resolve": {"scale": {"stroke": "independent", "fill": "independent", "shape": "independent", "strokeDash": "independent"}, "legend": {"stroke": "independent", "fill": "independent", "shape": "independent", "strokeDash": "independent"}},
"vconcat": [
 {
  "resolve": {"scale": {"stroke": "independent", "fill": "independent", "shape": "independent", "strokeDash": "independent"}, "legend": {"stroke": "independent", "fill": "independent", "shape": "independent", "strokeDash": "independent"}},
  "spacing": 13,
  "bounds": "flush",
  "hconcat": [
   {"width": 1, "height": 1, "data": {"values": [{}]}, "mark": {"type": "point", "opacity": 0}, "encoding": {}, "view": {"stroke": null}},
   {
    "resolve": {"scale": {"stroke": "independent", "fill": "independent", "shape": "independent", "strokeDash": "independent"}, "legend": {"stroke": "independent", "fill": "independent", "shape": "independent", "strokeDash": "independent"}},
    "spacing": 139,
    "bounds": "flush",
    "hconcat": [
     {
      "width": 457, "height": 345,
      "data": {"name": "topA"},
      "layer": [
       {
        "transform": [{"filter": "datum.k == 'l'"}],
        "mark": {"type": "line", "strokeWidth": 3, "clip": true},
        "encoding": {
         "x": {"field": "x", "type": "quantitative", "scale": {"domain": [15, 35], "nice": false, "zero": false}, "axis": {"values": [15, 20, 25, 30, 35], "title": null, "format": "~g", "labelFontSize": 12}},
         "y": {"field": "y", "type": "quantitative", "scale": {"domain": [-15, -10], "nice": false, "zero": false}, "axis": {"values": [-15, -14.5, -14, -13.5, -13, -12.5, -12, -11.5, -11, -10.5, -10], "format": "~g", "labelFontSize": 12, "title": "RROP,dBm @BER=10 ⁻³", "titleFontSize": 25, "titleX": -47, "titleY": 164, "titleBaseline": "middle"}},
         "stroke": {"field": "s", "type": "nominal", "scale": {"domain": ["Rectangular-order 1","Rectangular-order 2","Rectangular-order 3","SRRC(Optimized)-order 1","SRRC(Optimized)-order 2","SRRC(Optimized)-order 3","PE(Optimized)-order 1","PE(Optimized)-order 2","PE(Optimized)-order 3"], "range": ["#000000","#0000ff","#ff00ff","#000000","#0000ff","#ff00ff","#ff0000","#00e600","#00ffff"]}, "legend": {"orient": "none", "legendX": 169, "legendY": 1, "title": null, "labelFontSize": 20, "labelColor": "#1a1a1a", "symbolSize": 169, "symbolStrokeWidth": 2.5, "symbolOffset": 15, "labelOffset": 14, "padding": 3, "rowPadding": -2.6, "fillColor": "#ffffff", "strokeColor": "#262626", "labelLimit": 400}},
         "strokeDash": {"field": "s", "type": "nominal", "scale": {"domain": ["Rectangular-order 1","Rectangular-order 2","Rectangular-order 3","SRRC(Optimized)-order 1","SRRC(Optimized)-order 2","SRRC(Optimized)-order 3","PE(Optimized)-order 1","PE(Optimized)-order 2","PE(Optimized)-order 3"], "range": [[1,0],[3,3],[12,5],[1,0],[1,0],[1,0],[1,0],[1,0],[1,0]]}, "legend": {"orient": "none", "legendX": 169, "legendY": 1, "title": null, "labelFontSize": 20, "labelColor": "#1a1a1a", "symbolSize": 169, "symbolStrokeWidth": 2.5, "symbolOffset": 15, "labelOffset": 14, "padding": 3, "rowPadding": -2.6, "fillColor": "#ffffff", "strokeColor": "#262626", "labelLimit": 400}}
        }
       },
       {
        "transform": [{"filter": "datum.k == 'p'"}],
        "mark": {"type": "point", "size": 169, "strokeWidth": 2.5, "opacity": 1},
        "encoding": {
         "x": {"field": "x", "type": "quantitative"},
         "y": {"field": "y", "type": "quantitative"},
         "stroke": {"field": "s", "type": "nominal", "scale": {"domain": ["Rectangular-order 1","Rectangular-order 2","Rectangular-order 3","SRRC(Optimized)-order 1","SRRC(Optimized)-order 2","SRRC(Optimized)-order 3","PE(Optimized)-order 1","PE(Optimized)-order 2","PE(Optimized)-order 3"], "range": ["#000000","#0000ff","#ff00ff","#000000","#0000ff","#ff00ff","#ff0000","#00e600","#00ffff"]}, "legend": {"orient": "none", "legendX": 169, "legendY": 1, "title": null, "labelFontSize": 20, "labelColor": "#1a1a1a", "symbolSize": 169, "symbolStrokeWidth": 2.5, "symbolOffset": 15, "labelOffset": 14, "padding": 3, "rowPadding": -2.6, "fillColor": "#ffffff", "strokeColor": "#262626", "labelLimit": 400}},
         "fill": {"field": "s", "type": "nominal", "scale": {"domain": ["Rectangular-order 1","Rectangular-order 2","Rectangular-order 3","SRRC(Optimized)-order 1","SRRC(Optimized)-order 2","SRRC(Optimized)-order 3","PE(Optimized)-order 1","PE(Optimized)-order 2","PE(Optimized)-order 3"], "range": ["transparent","transparent","transparent","transparent","transparent","transparent","#ff0000","transparent","#00ffff"]}, "legend": {"orient": "none", "legendX": 169, "legendY": 1, "title": null, "labelFontSize": 20, "labelColor": "#1a1a1a", "symbolSize": 169, "symbolStrokeWidth": 2.5, "symbolOffset": 15, "labelOffset": 14, "padding": 3, "rowPadding": -2.6, "fillColor": "#ffffff", "strokeColor": "#262626", "labelLimit": 400}},
         "shape": {"field": "s", "type": "nominal", "scale": {"domain": ["Rectangular-order 1","Rectangular-order 2","Rectangular-order 3","SRRC(Optimized)-order 1","SRRC(Optimized)-order 2","SRRC(Optimized)-order 3","PE(Optimized)-order 1","PE(Optimized)-order 2","PE(Optimized)-order 3"], "range": ["M-3.3,0L3.3,0","M-3.3,0L3.3,0","M-3.3,0L-1,0M1,0L3.3,0M-1,0A1,1 0 1,1 1,0A1,1 0 1,1 -1,0","M-1,0A1,1 0 1,1 1,0A1,1 0 1,1 -1,0Z","M-0.75,-0.75L0.75,-0.75L0.75,0.75L-0.75,0.75Z","M-3.3,0L-1,0M1,0L3.3,0M-1,0A1,1 0 1,1 1,0A1,1 0 1,1 -1,0","M-0.9,0A0.9,0.9 0 1,1 0.9,0A0.9,0.9 0 1,1 -0.9,0Z","M0,-1.15L1.2,0.85L-1.2,0.85Z","M0,-1.35L0.32,-0.44L1.28,-0.42L0.51,0.17L0.79,1.09L0,0.54L-0.79,1.09L-0.51,0.17L-1.28,-0.42L-0.32,-0.44Z"]}, "legend": {"orient": "none", "legendX": 169, "legendY": 1, "title": null, "labelFontSize": 20, "labelColor": "#1a1a1a", "symbolSize": 169, "symbolStrokeWidth": 2.5, "symbolOffset": 15, "labelOffset": 14, "padding": 3, "rowPadding": -2.6, "fillColor": "#ffffff", "strokeColor": "#262626", "labelLimit": 400}}
        }
       },
       {
        "transform": [{"filter": "datum.k == 'c'"}],
        "mark": {"type": "point", "size": 169, "strokeWidth": 2.5, "opacity": 1, "shape": "M-1,0A1,1 0 1,1 1,0A1,1 0 1,1 -1,0Z", "fill": "transparent"},
        "encoding": {
         "x": {"field": "x", "type": "quantitative"},
         "y": {"field": "y", "type": "quantitative"},
         "stroke": {"field": "s", "type": "nominal", "scale": {"domain": ["Rectangular-order 1","Rectangular-order 2","Rectangular-order 3","SRRC(Optimized)-order 1","SRRC(Optimized)-order 2","SRRC(Optimized)-order 3","PE(Optimized)-order 1","PE(Optimized)-order 2","PE(Optimized)-order 3"], "range": ["#000000","#0000ff","#ff00ff","#000000","#0000ff","#ff00ff","#ff0000","#00e600","#00ffff"]}, "legend": {"orient": "none", "legendX": 169, "legendY": 1, "title": null, "labelFontSize": 20, "labelColor": "#1a1a1a", "symbolSize": 169, "symbolStrokeWidth": 2.5, "symbolOffset": 15, "labelOffset": 14, "padding": 3, "rowPadding": -2.6, "fillColor": "#ffffff", "strokeColor": "#262626", "labelLimit": 400}}
        }
       },
       {"data": {"values": [{"t": "FFE"}]}, "mark": {"type": "text", "font": "Liberation Serif", "fontWeight": "bold", "fontSize": 25, "align": "left", "baseline": "alphabetic", "color": "#000000"}, "encoding": {"x": {"datum": 15.42}, "y": {"datum": -14.49}, "text": {"field": "t"}}},
       {"data": {"values": [{"t": "a)"}]}, "mark": {"type": "text", "fontSize": 27, "align": "center", "baseline": "middle", "color": "#1a1a1a"}, "encoding": {"x": {"datum": 12.8}, "y": {"datum": -15.594}, "text": {"field": "t"}}},
       {"data": {"values": [{"t": "B"}]}, "mark": {"type": "text", "fontSize": 23, "align": "center", "baseline": "middle", "color": "#262626"}, "encoding": {"x": {"datum": 23.68}, "y": {"datum": -15.594}, "text": {"field": "t"}}},
       {"data": {"values": [{"t": "ch"}]}, "mark": {"type": "text", "fontSize": 16, "align": "center", "baseline": "middle", "color": "#262626"}, "encoding": {"x": {"datum": 24.45}, "y": {"datum": -15.72}, "text": {"field": "t"}}},
       {"data": {"values": [{"t": "[%]"}]}, "mark": {"type": "text", "fontSize": 23, "align": "center", "baseline": "middle", "color": "#262626"}, "encoding": {"x": {"datum": 25.75}, "y": {"datum": -15.594}, "text": {"field": "t"}}}
      ]
     },
     {
      "width": 457, "height": 345,
      "data": {"name": "topB"},
      "layer": [
       {
        "transform": [{"filter": "datum.k == 'l'"}],
        "mark": {"type": "line", "strokeWidth": 3, "clip": true},
        "encoding": {
         "x": {"field": "x", "type": "quantitative", "scale": {"domain": [15, 35], "nice": false, "zero": false}, "axis": {"values": [15, 20, 25, 30, 35], "title": null, "format": "~g", "labelFontSize": 12}},
         "y": {"field": "y", "type": "quantitative", "scale": {"domain": [-15, -10], "nice": false, "zero": false}, "axis": {"values": [-15, -14.5, -14, -13.5, -13, -12.5, -12, -11.5, -11, -10.5, -10], "format": "~g", "labelFontSize": 12, "title": "RROP,dBm @BER=10 ⁻³", "titleFontSize": 25, "titleX": -55, "titleY": 164, "titleBaseline": "middle"}},
         "stroke": {"field": "s", "type": "nominal", "scale": {"domain": ["Rectangular-order 1","Rectangular-order 2","Rectangular-order 3","SRRC(Optimized)-order 1","SRRC(Optimized)-order 2","SRRC(Optimized)-order 3","PE(Optimized)-order 1","PE(Optimized)-order 2","PE(Optimized)-order 3"], "range": ["#000000","#0000ff","#ff00ff","#000000","#0000ff","#ff00ff","#ff0000","#00e600","#00ffff"]}, "legend": {"orient": "none", "legendX": 168, "legendY": 8, "title": null, "labelFontSize": 20, "labelColor": "#1a1a1a", "symbolSize": 169, "symbolStrokeWidth": 2.5, "symbolOffset": 15, "labelOffset": 14, "padding": 3, "rowPadding": -1.2, "fillColor": "#ffffff", "strokeColor": "#262626", "labelLimit": 400}},
         "strokeDash": {"field": "s", "type": "nominal", "scale": {"domain": ["Rectangular-order 1","Rectangular-order 2","Rectangular-order 3","SRRC(Optimized)-order 1","SRRC(Optimized)-order 2","SRRC(Optimized)-order 3","PE(Optimized)-order 1","PE(Optimized)-order 2","PE(Optimized)-order 3"], "range": [[1,0],[3,3],[12,5],[1,0],[1,0],[1,0],[1,0],[1,0],[1,0]]}, "legend": {"orient": "none", "legendX": 168, "legendY": 8, "title": null, "labelFontSize": 20, "labelColor": "#1a1a1a", "symbolSize": 169, "symbolStrokeWidth": 2.5, "symbolOffset": 15, "labelOffset": 14, "padding": 3, "rowPadding": -1.2, "fillColor": "#ffffff", "strokeColor": "#262626", "labelLimit": 400}}
        }
       },
       {
        "transform": [{"filter": "datum.k == 'p'"}],
        "mark": {"type": "point", "size": 169, "strokeWidth": 2.5, "opacity": 1},
        "encoding": {
         "x": {"field": "x", "type": "quantitative"},
         "y": {"field": "y", "type": "quantitative"},
         "stroke": {"field": "s", "type": "nominal", "scale": {"domain": ["Rectangular-order 1","Rectangular-order 2","Rectangular-order 3","SRRC(Optimized)-order 1","SRRC(Optimized)-order 2","SRRC(Optimized)-order 3","PE(Optimized)-order 1","PE(Optimized)-order 2","PE(Optimized)-order 3"], "range": ["#000000","#0000ff","#ff00ff","#000000","#0000ff","#ff00ff","#ff0000","#00e600","#00ffff"]}, "legend": {"orient": "none", "legendX": 168, "legendY": 8, "title": null, "labelFontSize": 20, "labelColor": "#1a1a1a", "symbolSize": 169, "symbolStrokeWidth": 2.5, "symbolOffset": 15, "labelOffset": 14, "padding": 3, "rowPadding": -1.2, "fillColor": "#ffffff", "strokeColor": "#262626", "labelLimit": 400}},
         "fill": {"field": "s", "type": "nominal", "scale": {"domain": ["Rectangular-order 1","Rectangular-order 2","Rectangular-order 3","SRRC(Optimized)-order 1","SRRC(Optimized)-order 2","SRRC(Optimized)-order 3","PE(Optimized)-order 1","PE(Optimized)-order 2","PE(Optimized)-order 3"], "range": ["transparent","transparent","transparent","transparent","transparent","transparent","#ff0000","transparent","#00ffff"]}, "legend": {"orient": "none", "legendX": 168, "legendY": 8, "title": null, "labelFontSize": 20, "labelColor": "#1a1a1a", "symbolSize": 169, "symbolStrokeWidth": 2.5, "symbolOffset": 15, "labelOffset": 14, "padding": 3, "rowPadding": -1.2, "fillColor": "#ffffff", "strokeColor": "#262626", "labelLimit": 400}},
         "shape": {"field": "s", "type": "nominal", "scale": {"domain": ["Rectangular-order 1","Rectangular-order 2","Rectangular-order 3","SRRC(Optimized)-order 1","SRRC(Optimized)-order 2","SRRC(Optimized)-order 3","PE(Optimized)-order 1","PE(Optimized)-order 2","PE(Optimized)-order 3"], "range": ["M-3.3,0L3.3,0","M-3.3,0L3.3,0","M-3.3,0L-1,0M1,0L3.3,0M-1,0A1,1 0 1,1 1,0A1,1 0 1,1 -1,0","M-1,0A1,1 0 1,1 1,0A1,1 0 1,1 -1,0Z","M-0.75,-0.75L0.75,-0.75L0.75,0.75L-0.75,0.75Z","M-3.3,0L-1,0M1,0L3.3,0M-1,0A1,1 0 1,1 1,0A1,1 0 1,1 -1,0","M-0.9,0A0.9,0.9 0 1,1 0.9,0A0.9,0.9 0 1,1 -0.9,0Z","M0,-1.15L1.2,0.85L-1.2,0.85Z","M0,-1.35L0.32,-0.44L1.28,-0.42L0.51,0.17L0.79,1.09L0,0.54L-0.79,1.09L-0.51,0.17L-1.28,-0.42L-0.32,-0.44Z"]}, "legend": {"orient": "none", "legendX": 168, "legendY": 8, "title": null, "labelFontSize": 20, "labelColor": "#1a1a1a", "symbolSize": 169, "symbolStrokeWidth": 2.5, "symbolOffset": 15, "labelOffset": 14, "padding": 3, "rowPadding": -1.2, "fillColor": "#ffffff", "strokeColor": "#262626", "labelLimit": 400}}
        }
       },
       {
        "transform": [{"filter": "datum.k == 'c'"}],
        "mark": {"type": "point", "size": 169, "strokeWidth": 2.5, "opacity": 1, "shape": "M-1,0A1,1 0 1,1 1,0A1,1 0 1,1 -1,0Z", "fill": "transparent"},
        "encoding": {
         "x": {"field": "x", "type": "quantitative"},
         "y": {"field": "y", "type": "quantitative"},
         "stroke": {"field": "s", "type": "nominal", "scale": {"domain": ["Rectangular-order 1","Rectangular-order 2","Rectangular-order 3","SRRC(Optimized)-order 1","SRRC(Optimized)-order 2","SRRC(Optimized)-order 3","PE(Optimized)-order 1","PE(Optimized)-order 2","PE(Optimized)-order 3"], "range": ["#000000","#0000ff","#ff00ff","#000000","#0000ff","#ff00ff","#ff0000","#00e600","#00ffff"]}, "legend": {"orient": "none", "legendX": 168, "legendY": 8, "title": null, "labelFontSize": 20, "labelColor": "#1a1a1a", "symbolSize": 169, "symbolStrokeWidth": 2.5, "symbolOffset": 15, "labelOffset": 14, "padding": 3, "rowPadding": -1.2, "fillColor": "#ffffff", "strokeColor": "#262626", "labelLimit": 400}}
        }
       },
       {"data": {"values": [{"t": "DFE"}]}, "mark": {"type": "text", "font": "Liberation Serif", "fontWeight": "bold", "fontSize": 25, "align": "left", "baseline": "alphabetic", "color": "#000000"}, "encoding": {"x": {"datum": 15.6}, "y": {"datum": -14.49}, "text": {"field": "t"}}},
       {"data": {"values": [{"t": "b)"}]}, "mark": {"type": "text", "fontSize": 27, "align": "center", "baseline": "middle", "color": "#1a1a1a"}, "encoding": {"x": {"datum": 12.81}, "y": {"datum": -15.594}, "text": {"field": "t"}}},
       {"data": {"values": [{"t": "B"}]}, "mark": {"type": "text", "fontSize": 23, "align": "center", "baseline": "middle", "color": "#262626"}, "encoding": {"x": {"datum": 23.66}, "y": {"datum": -15.594}, "text": {"field": "t"}}},
       {"data": {"values": [{"t": "ch"}]}, "mark": {"type": "text", "fontSize": 16, "align": "center", "baseline": "middle", "color": "#262626"}, "encoding": {"x": {"datum": 24.43}, "y": {"datum": -15.72}, "text": {"field": "t"}}},
       {"data": {"values": [{"t": "[%]"}]}, "mark": {"type": "text", "fontSize": 23, "align": "center", "baseline": "middle", "color": "#262626"}, "encoding": {"x": {"datum": 25.73}, "y": {"datum": -15.594}, "text": {"field": "t"}}}
      ]
     }
    ]
   }
  ]
 },
 {
  "resolve": {"scale": {"stroke": "independent", "fill": "independent", "shape": "independent", "strokeDash": "independent"}, "legend": {"stroke": "independent", "fill": "independent", "shape": "independent", "strokeDash": "independent"}},
  "spacing": 134,
  "bounds": "flush",
  "hconcat": [
   {
    "width": 463, "height": 354,
    "resolve": {"scale": {"x": "independent", "y": "independent"}},
    "layer": [
     {
      "layer": [
       {
        "data": {"name": "ffeC"},
        "mark": {"type": "line", "strokeWidth": 2.2, "clip": true},
        "encoding": {
         "x": {"field": "x", "type": "quantitative", "scale": {"domain": [1, 8], "nice": false, "zero": false}, "axis": {"values": [1, 2, 3, 4, 5, 6, 7], "format": "~g", "title": "Pre-emphasis fₚ₁ [GHz]", "titleFontSize": 17, "titlePadding": 8, "titleX": 237}},
         "y": {"field": "y", "type": "quantitative", "scale": {"domain": [1.8, 2.6], "nice": false, "zero": false}, "axis": {"values": [1.9, 2, 2.1, 2.2, 2.3, 2.4, 2.5], "format": "~g", "labelPadding": 10, "title": "k, (fₚ₂=kfₚ₁)", "titleFontSize": 16, "titleFontStyle": "italic", "titleX": -41, "titleBaseline": "middle"}},
         "stroke": {"field": "l", "type": "nominal", "scale": {"domain": ["-11.8","-11.7","-11.6","-11.4","-11.2","-11","-10.8","-10.6","-10.4","-10.2"], "range": ["#3b2a9c","#4436b3","#4b4fd6","#2f80f0","#1aa2dc","#16b3a8","#3fbf70","#b2b832","#f5b12c","#f6ea1c"]}, "legend": null},
         "detail": {"field": "id"},
         "order": {"value": null}
        }
       },
       {"data": {"values": [{"t":"-11.7","x":1.38,"y":2.189}]}, "mark": {"type": "text", "angle": -90, "fontSize": 18, "color": "#000000"}, "encoding": {"x": {"field": "x", "type": "quantitative"}, "y": {"field": "y", "type": "quantitative"}, "text": {"field": "t"}}},
       {"data": {"values": [{"t":"-11.7","x":3.85,"y":1.935},{"t":"-11.6","x":4.3,"y":1.965},{"t":"-11.7","x":5.0,"y":2.353},{"t":"-11.6","x":5.36,"y":2.357},{"t":"-11.4","x":5.885,"y":2.357}]}, "mark": {"type": "text", "angle": -85, "fontSize": 18, "color": "#000000"}, "encoding": {"x": {"field": "x", "type": "quantitative"}, "y": {"field": "y", "type": "quantitative"}, "text": {"field": "t"}}},
       {"data": {"values": [{"t":"-11.2","x":6.31,"y":2.357},{"t":"-11","x":6.66,"y":2.346}]}, "mark": {"type": "text", "angle": -80, "fontSize": 18, "color": "#000000"}, "encoding": {"x": {"field": "x", "type": "quantitative"}, "y": {"field": "y", "type": "quantitative"}, "text": {"field": "t"}}},
       {"data": {"values": [{"t":"-10.8","x":7.07,"y":2.368},{"t":"-10.6","x":7.32,"y":2.372},{"t":"-10.4","x":7.52,"y":2.379}]}, "mark": {"type": "text", "angle": -72, "fontSize": 18, "color": "#000000"}, "encoding": {"x": {"field": "x", "type": "quantitative"}, "y": {"field": "y", "type": "quantitative"}, "text": {"field": "t"}}},
       {"data": {"values": [{"t":"-11.8","x":2.89,"y":2.264},{"t":"-11.7","x":2.81,"y":2.585}]}, "mark": {"type": "text", "angle": -65, "fontSize": 18, "color": "#000000"}, "encoding": {"x": {"field": "x", "type": "quantitative"}, "y": {"field": "y", "type": "quantitative"}, "text": {"field": "t"}}},
       {"data": {"values": [{}]}, "mark": {"type": "rule", "color": "#ff0000", "strokeWidth": 2, "strokeDash": [6, 4]}, "encoding": {"x": {"datum": 3.2}, "y": {"datum": 2.205}, "x2": {"datum": 4.56}, "y2": {"datum": 2.124}}},
       {"data": {"values": [{}]}, "mark": {"type": "point", "shape": "triangle-right", "angle": 22, "size": 200, "filled": true, "color": "#ff0000", "opacity": 1}, "encoding": {"x": {"datum": 4.63}, "y": {"datum": 2.12}}},
       {"data": {"values": [{}]}, "mark": {"type": "point", "shape": "circle", "size": 160, "filled": true, "fill": "#ff0000", "stroke": "#000000", "strokeWidth": 1.5, "opacity": 1}, "encoding": {"x": {"datum": 3.2}, "y": {"datum": 2.205}}},
       {"data": {"values": [{"t": "%B"}]}, "mark": {"type": "text", "font": "Liberation Serif", "fontWeight": "bold", "fontStyle": "italic", "fontSize": 27, "align": "left", "baseline": "alphabetic", "color": "#000000"}, "encoding": {"x": {"datum": 2.88}, "y": {"datum": 2.51}, "text": {"field": "t"}}},
       {"data": {"values": [{"t": "ch"}]}, "mark": {"type": "text", "font": "Liberation Serif", "fontWeight": "bold", "fontStyle": "italic", "fontSize": 18, "align": "left", "baseline": "alphabetic", "color": "#000000"}, "encoding": {"x": {"datum": 3.56}, "y": {"datum": 2.49}, "text": {"field": "t"}}},
       {"data": {"values": [{"t": "= 16"}]}, "mark": {"type": "text", "font": "Liberation Serif", "fontWeight": "bold", "fontSize": 27, "align": "left", "baseline": "alphabetic", "color": "#000000"}, "encoding": {"x": {"datum": 3.9}, "y": {"datum": 2.51}, "text": {"field": "t"}}},
       {"data": {"values": [{"t": "SGF, order1"}]}, "mark": {"type": "text", "font": "Liberation Serif", "fontWeight": "bold", "fontSize": 26, "align": "left", "baseline": "alphabetic", "color": "#000000"}, "encoding": {"x": {"datum": 2.88}, "y": {"datum": 2.439}, "text": {"field": "t"}}},
       {"data": {"values": [{"t": "FFE"}]}, "mark": {"type": "text", "font": "Liberation Serif", "fontWeight": "bold", "fontSize": 26, "align": "left", "baseline": "alphabetic", "color": "#000000"}, "encoding": {"x": {"datum": 2.88}, "y": {"datum": 2.368}, "text": {"field": "t"}}},
       {"data": {"values": [{}]}, "mark": {"type": "rect", "fill": "#ffffff", "stroke": "#404040", "strokeWidth": 1}, "encoding": {"x": {"datum": 1.19}, "x2": {"datum": 3.41}, "y": {"datum": 1.84}, "y2": {"datum": 1.891}}},
       {"data": {"values": [{}]}, "mark": {"type": "point", "shape": "M-1,0A1,0.36 0 1,1 1,0A1,0.36 0 1,1 -1,0Z", "size": 1849, "stroke": "#3e26a8", "strokeWidth": 2.5, "fill": "transparent", "opacity": 1}, "encoding": {"x": {"datum": 1.545}, "y": {"datum": 1.865}}},
       {"data": {"values": [{}]}, "mark": {"type": "point", "shape": "M-1,0A1,0.36 0 1,1 1,0A1,0.36 0 1,1 -1,0Z", "size": 784, "stroke": "#17b0b0", "strokeWidth": 2.5, "fill": "transparent", "opacity": 1}, "encoding": {"x": {"datum": 1.545}, "y": {"datum": 1.865}}},
       {"data": {"values": [{}]}, "mark": {"type": "point", "shape": "M-1,0A1,0.36 0 1,1 1,0A1,0.36 0 1,1 -1,0Z", "size": 196, "stroke": "#f5e51d", "strokeWidth": 2.5, "fill": "transparent", "opacity": 1}, "encoding": {"x": {"datum": 1.545}, "y": {"datum": 1.865}}},
       {"data": {"values": [{"t": "RROP, dBm"}]}, "mark": {"type": "text", "fontSize": 16, "align": "left", "baseline": "middle", "color": "#262626"}, "encoding": {"x": {"datum": 1.93}, "y": {"datum": 1.866}, "text": {"field": "t"}}},
       {"data": {"values": [{"t": "c)"}]}, "mark": {"type": "text", "fontSize": 27, "align": "center", "baseline": "middle", "color": "#1a1a1a"}, "encoding": {"x": {"datum": 0.39}, "y": {"datum": 1.737}, "text": {"field": "t"}}}
      ]
     },
     {
      "layer": [
       {"data": {"values": [{}]}, "mark": {"type": "rect", "fill": "#ffffff", "stroke": "#8c8c8c", "strokeWidth": 1.2}, "encoding": {"x": {"datum": 0, "type": "quantitative", "scale": {"domain": [0, 2.2], "range": [248.4, 430], "nice": false, "zero": false}, "axis": null}, "x2": {"datum": 2.2}, "y": {"datum": -0.56, "type": "quantitative", "scale": {"domain": [-0.56, 3.52], "range": [337, 191], "nice": false, "zero": false}, "axis": null}, "y2": {"datum": 3.52}}},
       {"data": {"name": "eye"}, "mark": {"type": "line", "interpolate": "monotone", "strokeWidth": 1.6, "color": "#0000ff"}, "encoding": {"x": {"field": "t", "type": "quantitative", "scale": {"domain": [0, 2.2], "range": [248.4, 430], "nice": false, "zero": false}, "axis": null}, "y": {"field": "v", "type": "quantitative", "scale": {"domain": [-0.56, 3.52], "range": [337, 191], "nice": false, "zero": false}, "axis": null}, "detail": {"field": "g"}}},
       {"data": {"name": "lens"}, "mark": {"type": "line", "interpolate": "monotone", "strokeWidth": 1.6, "color": "#0000ff"}, "encoding": {"x": {"field": "t", "type": "quantitative", "scale": {"domain": [0, 2.2], "range": [248.4, 430], "nice": false, "zero": false}, "axis": null}, "y": {"field": "v", "type": "quantitative", "scale": {"domain": [-0.56, 3.52], "range": [337, 191], "nice": false, "zero": false}, "axis": null}, "detail": {"field": "g"}}}
      ]
     }
    ]
   },
   {
    "width": 463, "height": 353,
    "resolve": {"scale": {"x": "independent", "y": "independent"}},
    "layer": [
     {
      "layer": [
       {
        "data": {"name": "dfeC"},
        "mark": {"type": "line", "strokeWidth": 2.2, "clip": true},
        "encoding": {
         "x": {"field": "x", "type": "quantitative", "scale": {"domain": [1, 15], "nice": false, "zero": false}, "axis": {"values": [2, 4, 6, 8, 10, 12, 14], "format": "~g", "title": "Pre-emphasis fₚ₁ [GHz]", "titleFontSize": 17, "titlePadding": 8, "titleX": 210}},
         "y": {"field": "y", "type": "quantitative", "scale": {"domain": [1.25, 2.75], "nice": false, "zero": false}, "axis": {"values": [1.4, 1.6, 1.8, 2, 2.2, 2.4, 2.6], "format": "~g", "labelPadding": 10, "title": "k, (fₚ₂=kfₚ₁)", "titleFontSize": 16, "titleFontStyle": "italic", "titleX": -41, "titleBaseline": "middle"}},
         "stroke": {"field": "l", "type": "nominal", "scale": {"domain": ["-12.6","-12.4","-12.2","-12","-11.8"], "range": ["#3f2f9f","#2f7fef","#1cb2a5","#b8a834","#f5ec1e"]}, "legend": null},
         "detail": {"field": "id"},
         "order": {"value": null}
        }
       },
       {"data": {"values": [{"t":"-12","x":3.17,"y":2.558},{"t":"-12.2","x":4.19,"y":2.459},{"t":"-12.4","x":5.58,"y":2.53},{"t":"-12.6","x":9.16,"y":2.26},{"t":"-12.4","x":10.77,"y":2.085}]}, "mark": {"type": "text", "angle": -72, "fontSize": 18, "color": "#000000"}, "encoding": {"x": {"field": "x", "type": "quantitative"}, "y": {"field": "y", "type": "quantitative"}, "text": {"field": "t"}}},
       {"data": {"values": [{"t":"-12.6","x":7.67,"y":2.5},{"t":"-12.2","x":12.88,"y":2.1}]}, "mark": {"type": "text", "angle": -78, "fontSize": 18, "color": "#000000"}, "encoding": {"x": {"field": "x", "type": "quantitative"}, "y": {"field": "y", "type": "quantitative"}, "text": {"field": "t"}}},
       {"data": {"values": [{"t":"-12.4","x":2.91,"y":1.795}]}, "mark": {"type": "text", "angle": -55, "fontSize": 18, "color": "#000000"}, "encoding": {"x": {"field": "x", "type": "quantitative"}, "y": {"field": "y", "type": "quantitative"}, "text": {"field": "t"}}},
       {"data": {"values": [{"t":"-12.6","x":6.14,"y":1.82}]}, "mark": {"type": "text", "angle": 90, "fontSize": 18, "color": "#000000"}, "encoding": {"x": {"field": "x", "type": "quantitative"}, "y": {"field": "y", "type": "quantitative"}, "text": {"field": "t"}}},
       {"data": {"values": [{"t":"-12.4","x":6.99,"y":1.449}]}, "mark": {"type": "text", "angle": -22, "fontSize": 18, "color": "#000000"}, "encoding": {"x": {"field": "x", "type": "quantitative"}, "y": {"field": "y", "type": "quantitative"}, "text": {"field": "t"}}},
       {"data": {"values": [{}]}, "mark": {"type": "rule", "color": "#ff0000", "strokeWidth": 2, "strokeDash": [6, 4]}, "encoding": {"x": {"datum": 8.1}, "y": {"datum": 2.384}, "x2": {"datum": 8.78}, "y2": {"datum": 1.94}}},
       {"data": {"values": [{}]}, "mark": {"type": "point", "shape": "triangle-right", "angle": 77, "size": 200, "filled": true, "color": "#ff0000", "opacity": 1}, "encoding": {"x": {"datum": 8.81}, "y": {"datum": 1.919}}},
       {"data": {"values": [{}]}, "mark": {"type": "point", "shape": "circle", "size": 160, "filled": true, "fill": "#ff0000", "stroke": "#000000", "strokeWidth": 1.5, "opacity": 1}, "encoding": {"x": {"datum": 8.1}, "y": {"datum": 2.384}}},
       {"data": {"values": [{"t": "%B"}]}, "mark": {"type": "text", "font": "Liberation Serif", "fontWeight": "bold", "fontStyle": "italic", "fontSize": 27, "align": "left", "baseline": "alphabetic", "color": "#000000"}, "encoding": {"x": {"datum": 10.15}, "y": {"datum": 2.593}, "text": {"field": "t"}}},
       {"data": {"values": [{"t": "ch"}]}, "mark": {"type": "text", "font": "Liberation Serif", "fontWeight": "bold", "fontStyle": "italic", "fontSize": 18, "align": "left", "baseline": "alphabetic", "color": "#000000"}, "encoding": {"x": {"datum": 11.44}, "y": {"datum": 2.559}, "text": {"field": "t"}}},
       {"data": {"values": [{"t": "= 16"}]}, "mark": {"type": "text", "font": "Liberation Serif", "fontWeight": "bold", "fontSize": 27, "align": "left", "baseline": "alphabetic", "color": "#000000"}, "encoding": {"x": {"datum": 12.06}, "y": {"datum": 2.593}, "text": {"field": "t"}}},
       {"data": {"values": [{"t": "SGF, order1"}]}, "mark": {"type": "text", "font": "Liberation Serif", "fontWeight": "bold", "fontSize": 26, "align": "left", "baseline": "alphabetic", "color": "#000000"}, "encoding": {"x": {"datum": 10.15}, "y": {"datum": 2.466}, "text": {"field": "t"}}},
       {"data": {"values": [{"t": "DFE"}]}, "mark": {"type": "text", "font": "Liberation Serif", "fontWeight": "bold", "fontSize": 26, "align": "left", "baseline": "alphabetic", "color": "#000000"}, "encoding": {"x": {"datum": 10.15}, "y": {"datum": 2.335}, "text": {"field": "t"}}},
       {"data": {"values": [{}]}, "mark": {"type": "rect", "fill": "#ffffff", "stroke": "#404040", "strokeWidth": 1}, "encoding": {"x": {"datum": 1.35}, "x2": {"datum": 5.86}, "y": {"datum": 1.297}, "y2": {"datum": 1.407}}},
       {"data": {"values": [{}]}, "mark": {"type": "point", "shape": "M-1,0A1,0.36 0 1,1 1,0A1,0.36 0 1,1 -1,0Z", "size": 1849, "stroke": "#3e26a8", "strokeWidth": 2.5, "fill": "transparent", "opacity": 1}, "encoding": {"x": {"datum": 2.09}, "y": {"datum": 1.353}}},
       {"data": {"values": [{}]}, "mark": {"type": "point", "shape": "M-1,0A1,0.36 0 1,1 1,0A1,0.36 0 1,1 -1,0Z", "size": 784, "stroke": "#17b0b0", "strokeWidth": 2.5, "fill": "transparent", "opacity": 1}, "encoding": {"x": {"datum": 2.09}, "y": {"datum": 1.353}}},
       {"data": {"values": [{}]}, "mark": {"type": "point", "shape": "M-1,0A1,0.36 0 1,1 1,0A1,0.36 0 1,1 -1,0Z", "size": 196, "stroke": "#f5e51d", "strokeWidth": 2.5, "fill": "transparent", "opacity": 1}, "encoding": {"x": {"datum": 2.09}, "y": {"datum": 1.353}}},
       {"data": {"values": [{"t": "RROP, dBm"}]}, "mark": {"type": "text", "fontSize": 16, "align": "left", "baseline": "middle", "color": "#262626"}, "encoding": {"x": {"datum": 2.81}, "y": {"datum": 1.353}, "text": {"field": "t"}}},
       {"data": {"values": [{"t": "d)"}]}, "mark": {"type": "text", "fontSize": 27, "align": "center", "baseline": "middle", "color": "#1a1a1a"}, "encoding": {"x": {"datum": -0.51}, "y": {"datum": 1.127}, "text": {"field": "t"}}}
      ]
     },
     {
      "layer": [
       {"data": {"values": [{}]}, "mark": {"type": "rect", "fill": "#ffffff", "stroke": "#8c8c8c", "strokeWidth": 1.2}, "encoding": {"x": {"datum": 0, "type": "quantitative", "scale": {"domain": [0, 2.2], "range": [261.7, 443.3], "nice": false, "zero": false}, "axis": null}, "x2": {"datum": 2.2}, "y": {"datum": -0.06, "type": "quantitative", "scale": {"domain": [-0.06, 3.07], "range": [345.3, 198.7], "nice": false, "zero": false}, "axis": null}, "y2": {"datum": 3.07}}},
       {"data": {"name": "eye"}, "mark": {"type": "line", "interpolate": "monotone", "strokeWidth": 1.4, "color": "#0000ff"}, "encoding": {"x": {"field": "t", "type": "quantitative", "scale": {"domain": [0, 2.2], "range": [261.7, 443.3], "nice": false, "zero": false}, "axis": null}, "y": {"field": "v", "type": "quantitative", "scale": {"domain": [-0.06, 3.07], "range": [345.3, 198.7], "nice": false, "zero": false}, "axis": null}, "detail": {"field": "g"}}}
      ]
     }
    ]
   }
  ]
 }
]
}
